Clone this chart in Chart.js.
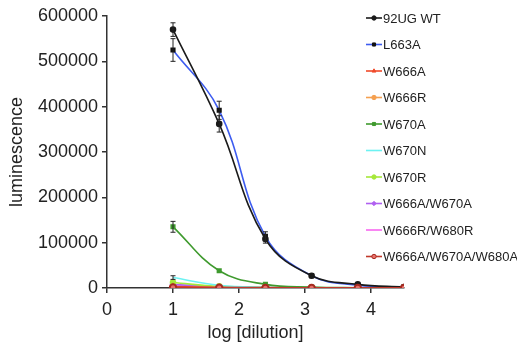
<!DOCTYPE html>
<html>
<head>
<meta charset="utf-8">
<script src="https://cdn.jsdelivr.net/npm/chart.js@4"></script>
<style>
  html, body { margin: 0; padding: 0; background: #fff; }
  #wrap { width: 517px; height: 352px; }
</style>
</head>
<body>
<div id="wrap"><canvas id="c" width="517" height="352"></canvas></div>
<script>
// log dilution positions
const logDilution = [1, 1.7, 2.4, 3.1, 3.8, 4.5];

const wt        = [570000, 362000, 108000, 27000, 8000, 2000];
const l663a     = [525000, 392000, 114000, 27000, 6000, 2000];
const w666a     = [3000, 1000, 500, 300, 200, 100];
const w666r     = [2000, 800, 400, 200, 100, 100];
const w670a     = [135000, 38000, 8000, 2000, 600, 200];
const w670n     = [23000, 6000, 1500, 500, 200, 100];
const w670r     = [12000, 3500, 1000, 300, 100, 100];
const w666aW670a = [8000, 2500, 800, 300, 100, 100];
const w666rW680r = [5000, 1500, 500, 200, 100, 100];
const triple    = [1000, 500, 300, 200, 100, 100];

// standard errors (drawn as bars)
const wtErr    = [15000, 18000, 9000, 3000, 1500, 500];
const l663aErr = [25000, 20000, 10000, 3000, 1500, 500];
const w670aErr = [12000, 3000, 1000, 500, 300, 100];
const w670nErr = [4000, 1000, 500, 200, 100, 100];

const xTicks = [0, 1, 2, 3, 4];

const FONT = '"Liberation Sans", Arial, Helvetica, sans-serif';
const AXIS = '#333';

function pts(vals) { return vals.map((v, i) => ({ x: logDilution[i], y: v })); }

function ds(label, vals, color, style, extra) {
  return Object.assign({
    label, data: pts(vals),
    borderColor: color, backgroundColor: color,
    borderWidth: 1.6, tension: 0.4,
    pointStyle: style || 'circle',
    pointRadius: style ? 2.5 : 0,
    pointBorderColor: color, pointBackgroundColor: color,
  }, extra || {});
}

const datasets = [
  ds('92UG WT', wt, '#1a1a1a', 'circle', { errors: wtErr }),
  ds('L663A', l663a, '#3d5cf0', 'rect', { errors: l663aErr, pointBackgroundColor: '#111', pointBorderColor: '#111' }),
  ds('W666A', w666a, '#f04a2a', 'triangle'),
  ds('W666R', w666r, '#f5a050', 'circle'),
  ds('W670A', w670a, '#3f9a2e', 'rect', { errors: w670aErr }),
  ds('W670N', w670n, '#6cf2f2', null, { errors: w670nErr }),
  ds('W670R', w670r, '#a6e83a', 'circle'),
  ds('W666A/W670A', w666aW670a, '#b060f0', 'rectRot'),
  ds('W666R/W680R', w666rW680r, '#f868f0', null),
  ds('W666A/W670A/W680A', triple, '#c0392b', 'circle', { pointRadius: 3.2, pointBackgroundColor: '#e8706a', pointBorderColor: '#a52a20', borderWidth: 2 }),
];
datasets.forEach((d, i) => { d.order = d.label === 'W666A/W670A/W680A' ? -1 : i; });

// error bars with caps, drawn over the lines
const errorBars = {
  id: 'errorBars',
  afterDatasetsDraw(chart) {
    const ctx = chart.ctx, xs = chart.scales.x, ys = chart.scales.y;
    ctx.save();
    ctx.strokeStyle = '#222';
    ctx.lineWidth = 1;
    chart.data.datasets.forEach(d => {
      if (!d.errors) return;
      d.data.forEach((p, i) => {
        const e = d.errors[i];
        const x = xs.getPixelForValue(p.x);
        const y0 = ys.getPixelForValue(p.y - e), y1 = ys.getPixelForValue(p.y + e);
        if (y0 - y1 < 3) return;
        ctx.beginPath();
        ctx.moveTo(x, y0); ctx.lineTo(x, y1);
        ctx.moveTo(x - 2.5, y0); ctx.lineTo(x + 2.5, y0);
        ctx.moveTo(x - 2.5, y1); ctx.lineTo(x + 2.5, y1);
        ctx.stroke();
      });
    });
    ctx.restore();
  }
};

// legend to the right: short line with marker, then label
const sideLegend = {
  id: 'sideLegend',
  afterDraw(chart) {
    const ctx = chart.ctx;
    ctx.save();
    ctx.font = '13px ' + FONT;
    ctx.textBaseline = 'middle';
    chart.data.datasets.forEach((d, i) => {
      const y = 18 + i * 26.5;
      ctx.strokeStyle = d.borderColor;
      ctx.lineWidth = 1.6;
      ctx.beginPath(); ctx.moveTo(366, y); ctx.lineTo(382, y); ctx.stroke();
      if (d.pointRadius > 0) {
        ctx.fillStyle = d.pointBackgroundColor;
        ctx.strokeStyle = d.pointBorderColor;
        ctx.lineWidth = 1;
        Chart.helpers.drawPoint(ctx, { pointStyle: d.pointStyle, radius: 2.2, borderWidth: 1 }, 374, y);
      }
      ctx.fillStyle = '#222';
      ctx.fillText(d.label, 383, y + 1);
    });
    ctx.restore();
  }
};

new Chart(document.getElementById('c'), {
  type: 'line',
  data: { datasets },
  options: {
    responsive: false, animation: false,
    layout: { padding: { top: 16, right: 113, left: 0, bottom: 0 } },
    plugins: { legend: { display: false }, tooltip: { enabled: false } },
    scales: {
      x: {
        type: 'linear', min: 0, max: 4.5,
        afterBuildTicks: s => { s.ticks = xTicks.map(v => ({ value: v })); },
        afterFit: s => { s.height = 64; },
        ticks: { color: '#222', font: { family: FONT, size: 18 }, padding: 6 },
        grid: { drawOnChartArea: false, drawTicks: true, tickLength: 5, color: AXIS, lineWidth: 1.5 },
        border: { color: AXIS, width: 1.5 },
        title: { display: true, text: 'log [dilution]', color: '#222', font: { family: FONT, size: 18 }, padding: { top: 0, bottom: 8 } },
      },
      y: {
        min: 0, max: 600000,
        ticks: { stepSize: 100000, color: '#222', font: { family: FONT, size: 18 }, padding: 4, callback: v => String(v) },
        afterFit: s => { s.width = 107; },
        grid: { drawOnChartArea: false, drawTicks: true, tickLength: 5, color: AXIS, lineWidth: 1.5 },
        border: { color: AXIS, width: 1.5 },
        title: { display: true, text: 'luminescence', color: '#222', font: { family: FONT, size: 18 }, padding: { top: 6, bottom: 0 } },
      }
    }
  },
  plugins: [errorBars, sideLegend]
});
</script>
</body>
</html>
